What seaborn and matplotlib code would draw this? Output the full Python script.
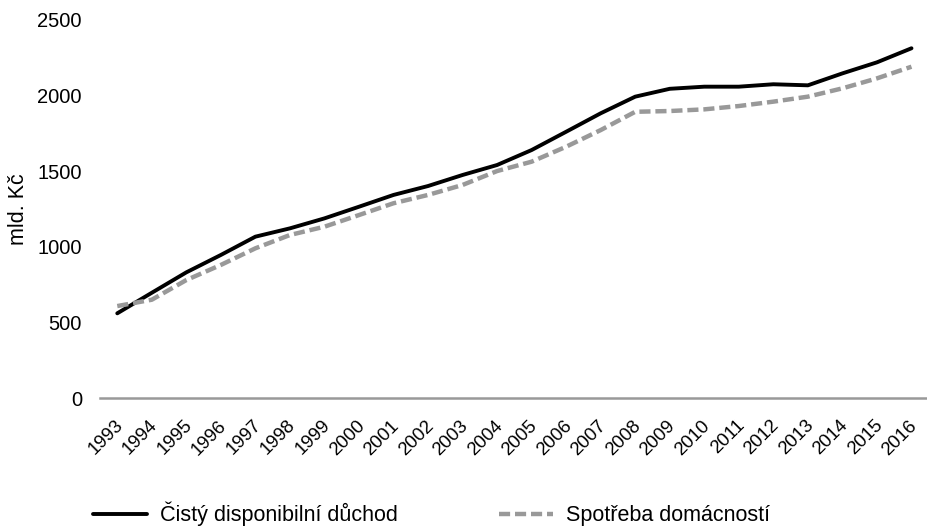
import numpy as np
import pandas as pd
import matplotlib
matplotlib.use('Agg')
import matplotlib.pyplot as plt
import matplotlib.transforms as mtransforms
import seaborn as sns

# values (mld. Kč)
years = list(range(1993, 2017))
year_labels = [str(y) for y in years]
disposable_income = [560, 696, 831, 946, 1067, 1122, 1188, 1265, 1343, 1402, 1475, 1541,
                     1640, 1761, 1883, 1993, 2045, 2059, 2059, 2075, 2068, 2147, 2220, 2313]
consumption = [608, 650, 780, 880, 990, 1078, 1133, 1210, 1288, 1343, 1409, 1501,
               1563, 1662, 1772, 1893, 1898, 1909, 1931, 1960, 1993, 2048, 2114, 2191]
series_names = ['Čistý disponibilní důchod', 'Spotřeba domácností']
y_ticks = [0, 500, 1000, 1500, 2000, 2500]

df = pd.DataFrame({
    'pos': np.arange(len(years)),
    'income': disposable_income,
    'consumption': consumption,
})

sns.set_style('white')
plt.rcParams['font.family'] = ['Liberation Sans', 'DejaVu Sans']
plt.rcParams['text.color'] = 'black'

fig = plt.figure(figsize=(9.28, 5.29), dpi=100)
ax = fig.add_axes([100 / 928, (529 - 398) / 529, 828.75 / 928, (398 - 20) / 529])

sns.lineplot(data=df, x='pos', y='income', ax=ax, color='black', linewidth=2.8,
             label=series_names[0], legend=False)
sns.lineplot(data=df, x='pos', y='consumption', ax=ax, color='#999999', linewidth=3.2,
             linestyle=(0, (2.5, 1.1)), label=series_names[1], legend=False)

ax.set_xlim(-0.5, len(years) - 0.5)
ax.set_ylim(0, 2500)
ax.set_yticks(y_ticks)
ax.set_yticklabels([str(t) for t in y_ticks], fontsize=14.5, color='black')
ax.set_xticks(df['pos'])
ax.set_xticklabels(year_labels, fontsize=13.4, color='black')
ax.tick_params(axis='y', length=0, pad=13)
ax.tick_params(axis='x', length=0, pad=18)

offset = mtransforms.ScaledTranslation(3 / 100, 0, fig.dpi_scale_trans)
for lab in ax.get_xticklabels():
    lab.set_rotation(45)
    lab.set_ha('right')
    lab.set_va('center')
    lab.set_rotation_mode('anchor')
    lab.set_transform(lab.get_transform() + offset)

ax.set_xlabel('')
ax.set_ylabel('mld. Kč', fontsize=15.5, color='black')
ax.yaxis.set_label_coords(-0.086, 0.5)

for side in ['top', 'right', 'left']:
    ax.spines[side].set_visible(False)
ax.spines['bottom'].set_color('#999999')
ax.spines['bottom'].set_linewidth(1.8)
ax.grid(False)

handles, labels = ax.get_legend_handles_labels()
fig.legend(handles, labels, loc='center', bbox_to_anchor=(431.5 / 928, 1 - 514 / 529),
           ncol=2, frameon=False, fontsize=15.5, handlelength=2.5, handletextpad=0.6,
           columnspacing=4.7, borderpad=0, borderaxespad=0)

fig.savefig('out.png', dpi=100)
